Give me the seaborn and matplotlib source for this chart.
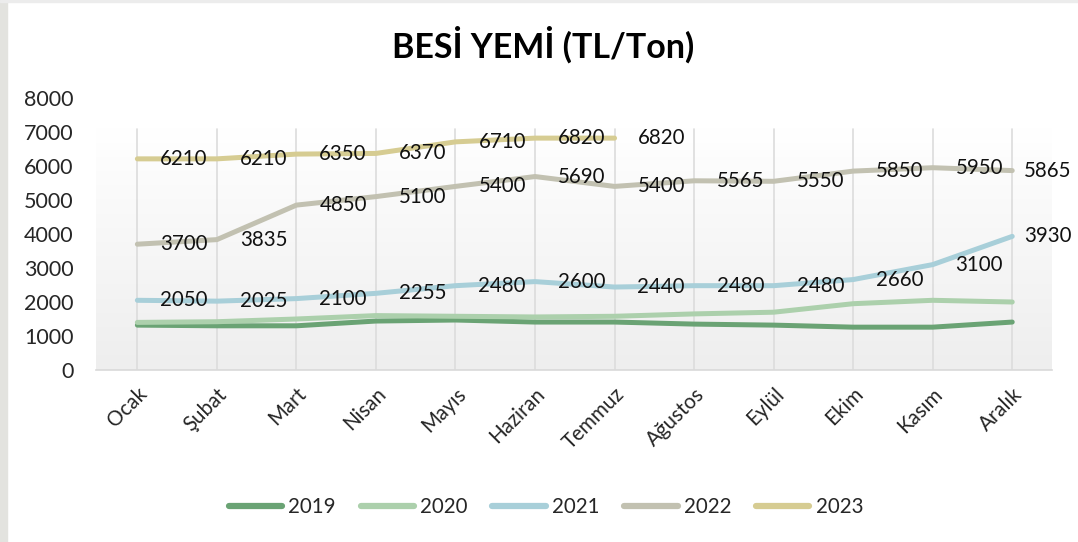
import numpy as np
import pandas as pd
import matplotlib
matplotlib.use("Agg")
import matplotlib.pyplot as plt
from matplotlib.patches import Rectangle
import seaborn as sns

months = ["Ocak", "Şubat", "Mart", "Nisan", "Mayıs", "Haziran",
          "Temmuz", "Ağustos", "Eylül", "Ekim", "Kasım", "Aralık"]

y2019 = [1320, 1300, 1300, 1440, 1470, 1410, 1410, 1350, 1320, 1260, 1260, 1410]
y2020 = [1400, 1420, 1500, 1600, 1580, 1560, 1580, 1650, 1700, 1950, 2050, 2000]
y2021 = [2050, 2025, 2100, 2255, 2480, 2600, 2440, 2480, 2480, 2660, 3100, 3930]
y2022 = [3700, 3835, 4850, 5100, 5400, 5690, 5400, 5565, 5550, 5850, 5950, 5865]
y2023 = [6210, 6210, 6350, 6370, 6710, 6820, 6820]

years = ["2019", "2020", "2021", "2022", "2023"]
series = [y2019, y2020, y2021, y2022, y2023]
labelled = {"2021", "2022", "2023"}
colors = ["#6aa374", "#acd0ac", "#a8cfd9", "#c2c1b1", "#d6cc92"]

rows = []
for yr, vals in zip(years, series):
    for i, v in enumerate(vals):
        rows.append({"idx": i, "Ay": months[i], "Yıl": yr, "Değer": v})
df = pd.DataFrame(rows)

sns.set_theme(style="white")
plt.rcParams["font.family"] = ["Lato", "DejaVu Sans"]

fig = plt.figure(figsize=(10.78, 5.42), dpi=100)
ax = fig.add_axes([96 / 1078, 1 - 370 / 542, (1052 - 96) / 1078, (370 - 98) / 542])

# plot area panel: soft vertical gradient that stops a little below the top tick
panel_top = 7100 / 8000
grad = np.linspace(1, 0, 256).reshape(-1, 1)
cmap = matplotlib.colors.LinearSegmentedColormap.from_list("bg", ["#eeeeee", "#ffffff"])
ax.imshow(grad, extent=[0, 1, 0, panel_top], transform=ax.transAxes, cmap=cmap,
          aspect="auto", zorder=0, origin="upper")

for i in range(len(months)):
    ax.axvline(i, ymin=0, ymax=panel_top, color="#dcdcdc", lw=1.2, zorder=1)

sns.lineplot(data=df, x="idx", y="Değer", hue="Yıl", palette=colors,
             linewidth=3.6, ax=ax, legend=True, zorder=3)
for line in ax.get_lines():
    line.set_solid_capstyle("round")
    line.set_solid_joinstyle("round")

last = len(months) - 1
for yr, vals in zip(years, series):
    if yr not in labelled:
        continue
    for i, v in enumerate(vals):
        dx = 8.5 if i == last else 16.5
        ax.annotate(f"{v}", (i, v), xytext=(dx, 0), textcoords="offset points",
                    ha="left", va="center", fontsize=14.8, color="#111111", zorder=4)

ax.set_xlim(-0.52, 11.5)
ax.set_ylim(0, 8000)
ax.set_yticks(range(0, 8001, 1000))
ax.set_yticklabels([str(v) for v in range(0, 8001, 1000)], fontsize=15.5)
ax.set_xticks(range(len(months)))
ax.set_xticklabels(months, fontsize=14.8, rotation=45, ha="right",
                   rotation_mode="anchor")
ax.tick_params(axis="y", length=0, pad=16)
ax.tick_params(axis="x", length=0, pad=10)
ax.set_xlabel("")
ax.set_ylabel("")
for side in ["top", "right", "left"]:
    ax.spines[side].set_visible(False)
ax.spines["bottom"].set_color("#d9d9d9")
ax.spines["bottom"].set_linewidth(1.2)

handles, labels = ax.get_legend_handles_labels()
for h in handles:
    h.set_linewidth(4.5)
    h.set_solid_capstyle("round")
leg = fig.legend(handles, labels, loc="center", bbox_to_anchor=(546 / 1078, 1 - 507 / 542),
                 ncol=5, frameon=False, fontsize=14.8, handlelength=2.6,
                 handletextpad=0.3, columnspacing=1.2)
ax.get_legend().remove()

fig.text(543 / 1078, 1 - 45 / 542, "BESİ YEMİ (TL/Ton)", ha="center", va="center",
         fontsize=24.5, fontweight="bold", color="#000000")

# frame strips at the figure edges
fig.patches.append(Rectangle((0, 0), 7 / 1078, 1, transform=fig.transFigure,
                             color="#e3e3df", zorder=0))
fig.patches.append(Rectangle((0, 1 - 2 / 542), 1, 2 / 542, transform=fig.transFigure,
                             color="#ececec", zorder=0))

fig.savefig("out.png", dpi=100)
